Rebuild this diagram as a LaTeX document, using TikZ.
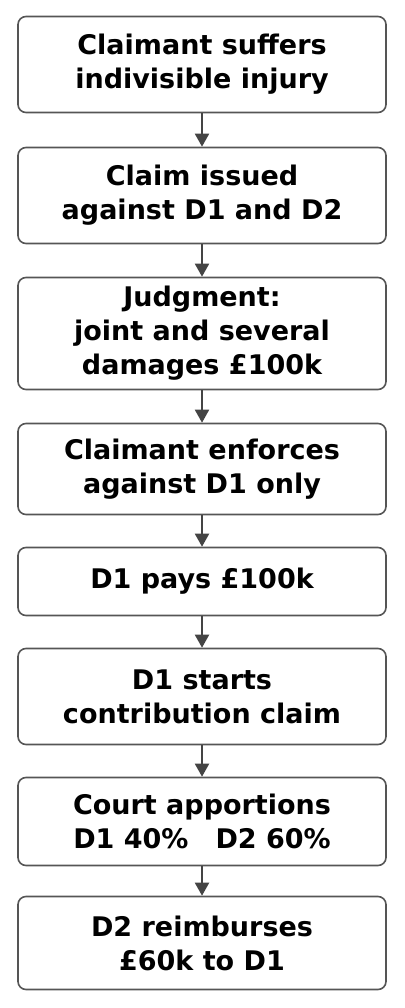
\documentclass[tikz,border=0pt]{standalone}
\usepackage{fontspec}
\setmainfont{DejaVu Sans}
\usepackage{tikz}
\usetikzlibrary{arrows.meta}
\definecolor{boxline}{HTML}{555555}
\definecolor{flowline}{HTML}{444444}
\tikzset{
	stepbox/.style={draw=boxline,line width=1.6pt,rounded corners=8pt,fill=white,
		minimum width=368pt,align=center,inner sep=2pt,
		font=\fontsize{27}{34}\selectfont\bfseries},
	flow/.style={draw=flowline,line width=2pt,-{Triangle[length=13pt,width=14pt]}},
}
\begin{document}
\begin{tikzpicture}[x=1pt,y=-1pt]
		\useasboundingbox (0,0) rectangle (404,1008);
		\node[stepbox,minimum height=96pt] (injury) at (202,64.5) {Claimant suffers\\indivisible injury};
		\node[stepbox,minimum height=96pt] (claim) at (202,195.5) {Claim issued\\against D1 and D2};
		\node[stepbox,minimum height=112pt] (judgment) at (202,333.5) {Judgment:\\joint and several\\damages \pounds100k};
		\node[stepbox,minimum height=91pt] (enforce) at (202,469) {Claimant enforces\\against D1 only};
		\node[stepbox,minimum height=68pt] (pays) at (202,581.5) {D1 pays \pounds100k};
		\node[stepbox,minimum height=96pt] (starts) at (202,696.5) {D1 starts\\contribution claim};
		\node[stepbox,minimum height=88pt] (apportion) at (202,821.5) {Court apportions\\D1 40\%\hspace{1em}D2 60\%};
		\node[stepbox,minimum height=93pt] (reimburse) at (202,943) {D2 reimburses\\\pounds60k to D1};
		\foreach \a/\b in {injury/claim,claim/judgment,judgment/enforce,enforce/pays,pays/starts,starts/apportion,apportion/reimburse}
			\draw[flow] (\a) -- (\b);
	\end{tikzpicture}
\end{document}
